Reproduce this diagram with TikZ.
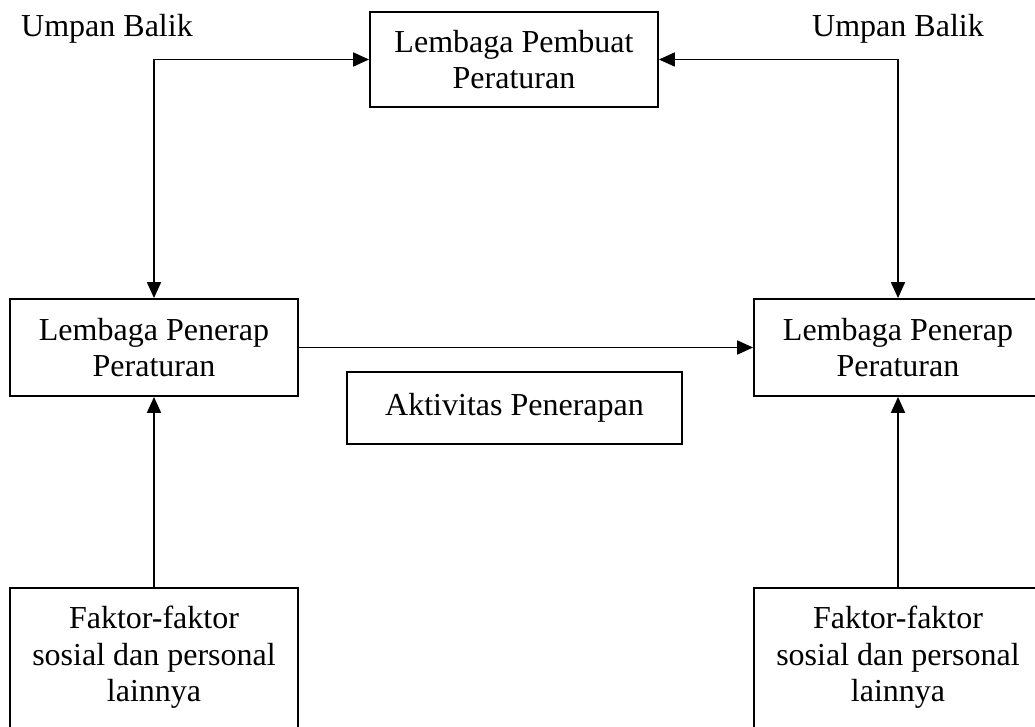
\documentclass[tikz,border=0pt]{standalone}
\usepackage{fontspec}
\setmainfont{Liberation Serif}
\usetikzlibrary{arrows.meta}
\begin{document}
\begin{tikzpicture}[x=1pt,y=-1pt,
  every node/.style={font=\fontsize{32}{36.5}\selectfont},
  box/.style={draw, line width=1.8pt, rectangle, align=center, inner sep=0pt, minimum width=288pt, minimum height=97pt},
  factor/.style={anchor=north, align=center, inner xsep=0pt, inner ysep=18pt},
  conn/.style={line width=1.8pt, -{Triangle[length=16pt,width=14pt]}},
  conn2/.style={line width=1.8pt, {Triangle[length=16pt,width=14pt]}-{Triangle[length=16pt,width=14pt]}},
  lbl/.style={inner sep=0pt, anchor=base}
]
\useasboundingbox (0,0) rectangle (1035,727);
\clip (0,0) rectangle (1035,727);

\node[box, minimum height=95pt] (tp) at (514,59.5) {Lembaga Pembuat\\Peraturan};
\node[box] (lm) at (154,347.5) {Lembaga Penerap\\Peraturan};
\node[box] (rm) at (898,347.5) {Lembaga Penerap\\Peraturan};
\node[draw, line width=1.8pt, inner sep=0pt, minimum width=335pt, minimum height=72pt] (akt) at (514.5,408) {Aktivitas Penerapan};

\node[lbl] (ul) at (107,37) {Umpan Balik};
\node[lbl] (ur) at (898,37) {Umpan Balik};

\node[factor] (bl) at (154,588) {Faktor-faktor\\sosial dan personal\\lainnya};
\node[factor] (br) at (898,588) {Faktor-faktor\\sosial dan personal\\lainnya};
\draw[line width=1.8pt] ([xshift=-144pt]bl.north) rectangle ++(288,160);
\draw[line width=1.8pt] ([xshift=-144pt]br.north) rectangle ++(288,160);

\draw[conn2] (tp.west) -| (lm.north);
\draw[conn2] (tp.east) -| (rm.north);
\draw[conn] (lm.east) -- (rm.west);
\draw[conn] (bl.north) -- (lm.south);
\draw[conn] (br.north) -- (rm.south);
\end{tikzpicture}
\end{document}
